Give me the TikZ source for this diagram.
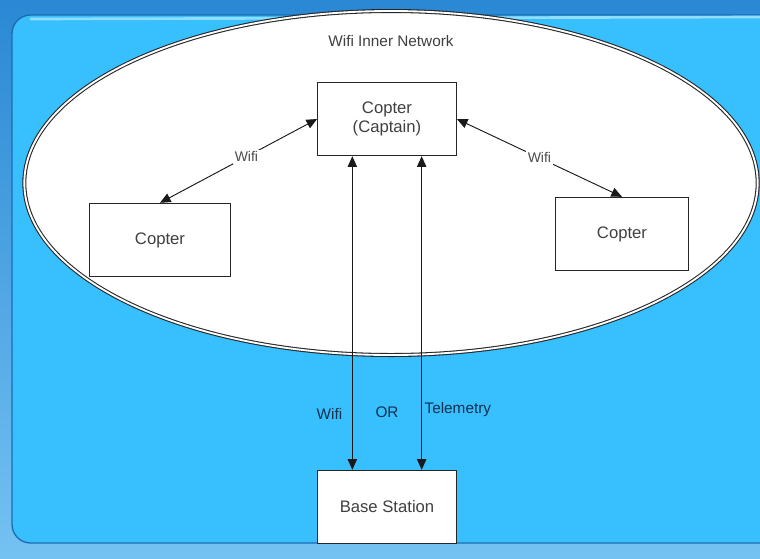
\documentclass[tikz,border=0pt]{standalone}
\usepackage{fontspec}
\setmainfont{Liberation Sans}
\usepackage{tikz}
\usetikzlibrary{positioning, shapes.geometric, arrows.meta}

\definecolor{deskblue}{HTML}{2A88D4}
\definecolor{desklight}{HTML}{74C2F2}
\definecolor{slideblue}{HTML}{38BFFD}
\definecolor{slideedge}{HTML}{1C6DB0}
\definecolor{labelnavy}{HTML}{12304F}

\begin{document}
\begin{tikzpicture}[
    x=0.75pt, y=-0.75pt,
    box/.style={rectangle, draw=black!85, fill=white, line width=0.8pt,
                minimum width=104pt, minimum height=55pt, align=center,
                font=\fontsize{12.5}{14.5}\selectfont, text=black!75},
    link/.style={{Triangle[length=8pt,width=7pt]}-{Triangle[length=8pt,width=7pt]},
                 line width=0.7pt, black!90},
    tag/.style={fill=white, inner sep=1.5pt, font=\fontsize{10.5}{12}\selectfont,
                text=black!70},
    medium/.style={font=\fontsize{11.5}{13}\selectfont, text=labelnavy},
]
\useasboundingbox (0,0) rectangle (760,558);

% desk and slide
\shade[top color=deskblue, bottom color=desklight] (0,0) rectangle (760,558);
\draw[fill=slideblue, draw=slideedge, line width=1pt, rounded corners=14pt]
    (12,15) rectangle (790,543);
\draw[slideblue!55!white, line width=2pt] (30,19) -- (760,17);

% inner network
\node[ellipse, draw=black!85, double=white, double distance=1.4pt,
      line width=0.8pt, fill=white, minimum width=550pt, minimum height=258pt]
    (net) at (391,183) {};
\node[font=\fontsize{11.5}{13}\selectfont, text=black!75, below=15pt of net.north]
    (nettitle) {Wifi Inner Network};

\node[box] (capt) at (387,119) {Copter\\(Captain)};
\node[box, minimum width=106pt] (lcopt) at (160,240) {Copter};
\node[box, minimum width=100pt] (rcopt) at (622,234) {Copter};
\node[box] (base) at (387,507) {Base Station};

\draw[link] (capt.west) -- node[tag, pos=0.45] {Wifi} (lcopt.north);
\draw[link] (capt.east) -- node[tag, pos=0.5] {Wifi} (rcopt.north);

\draw[link] ([xshift=-26pt]capt.south) -- ([xshift=-26pt]base.north);
\draw[link] ([xshift=26pt]capt.south) -- ([xshift=26pt]base.north);

\node[medium, anchor=east] (viawifi) at (347,414) {Wifi};
\node[medium] (orword) at (387,412) {OR};
\node[medium, anchor=west, inner sep=1pt] (viatele) at (423,410) {Telemetry};
\end{tikzpicture}
\end{document}
